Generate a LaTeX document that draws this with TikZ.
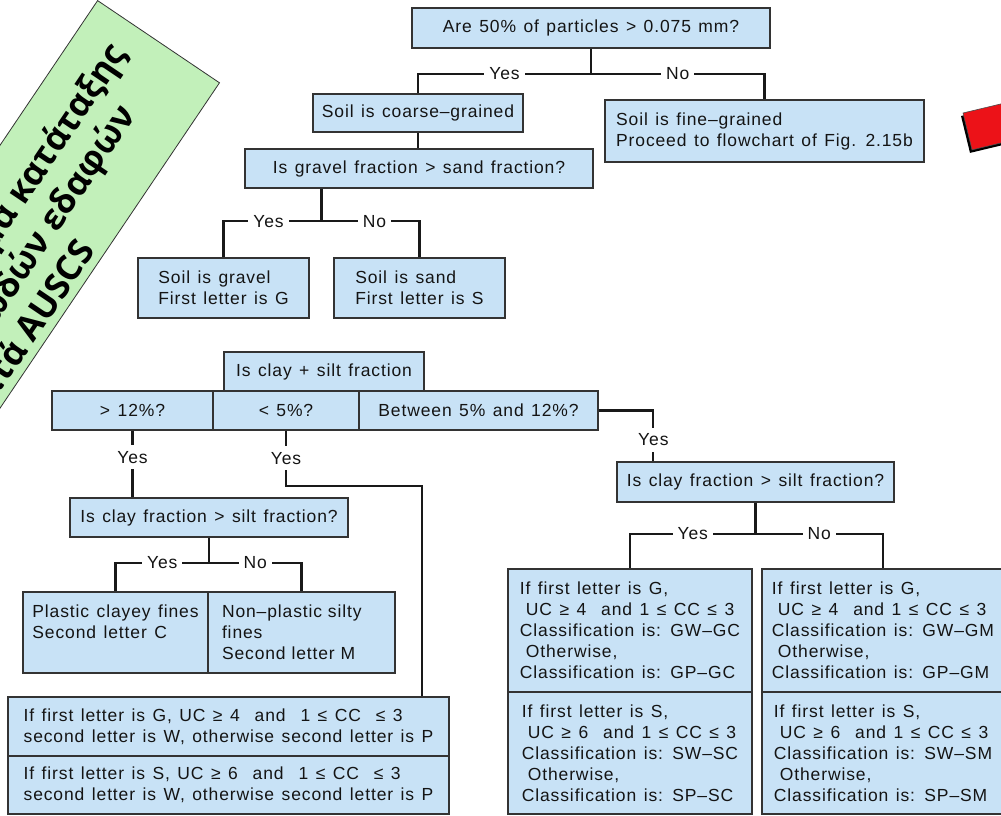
\documentclass[tikz,border=0pt]{standalone}
\usepackage{fontspec}
\setmainfont{Liberation Sans}[LetterSpace=5,WordSpace=1.3]
\newfontfamily\greekfont{Open Sans}
\usetikzlibrary{calc}
\definecolor{boxblue}{RGB}{200,226,246}
\definecolor{notegreen}{RGB}{194,240,186}
\definecolor{tabred}{RGB}{236,18,24}

\begin{document}
\begin{tikzpicture}[x=1pt,y=-1pt,
font=\fontsize{17.5}{21}\selectfont,
box/.style={draw=black!80,line width=1.3pt,fill=boxblue,text=black!92,align=left,inner sep=0pt},
link/.style={draw=black!90,line width=2.2pt},
lbl/.style={fill=white,text=black!92,inner xsep=5pt,inner ysep=6pt},
notebox/.style={draw=black!80,line width=.8pt,fill=notegreen}]
\path[use as bounding box,clip] (0,0) rectangle (1001,816);
\fill[white] (0,0) rectangle (1001,816);

% title note and red tab
\node[notebox,rotate=56,minimum width=434,minimum height=147] (notebg) at (37.2,221.6) {};
\node[rotate=56,anchor=west,inner sep=0pt,align=left,font=\greekfont\bfseries\fontsize{35}{42}\selectfont] (notetitle) at (-65.2,390.1) {Διάγραμμα κατάταξης\\κοκκωδών εδαφών\\κατά AUSCS};
\fill[black] (961,116) -- (1068,90.4) -- (1077,127.3) -- (970,152.9) -- cycle;
\filldraw[fill=tabred,draw=black!70,line width=.6pt] (963,113) -- (1070,87.4) -- (1079,124.3) -- (972,149.9) -- cycle;

% boxes
\node[box,minimum width=358,minimum height=40] (q50) at (591,28) {Are 50\% of particles > 0.075 mm?};
\node[box,minimum width=210,minimum height=38] (coarse) at (418,113) {Soil is coarse–grained};
\node[box,minimum width=319,minimum height=62] (fine) at (764.5,131) {Soil is fine–grained\\Proceed to flowchart of Fig. 2.15b};
\node[box,minimum width=348,minimum height=39] (gravelq) at (419,168.5) {Is gravel fraction > sand fraction?};
\node[box,minimum width=171,minimum height=60] (gravel) at (223.5,288) {Soil is gravel\\First letter is G};
\node[box,minimum width=171,minimum height=60] (sand) at (419.5,288) {Soil is sand\\First letter is S};
\node[box,minimum width=200,minimum height=39] (finesq) at (324,371.5) {Is clay + silt fraction};
\node[box,minimum width=161,minimum height=39] (over12) at (132.5,410.5) {> 12\%?};
\node[box,minimum width=146,minimum height=39] (under5) at (286,410.5) {< 5\%?};
\node[box,minimum width=239,minimum height=39] (between) at (478.5,410.5) {Between 5\% and 12\%?};
\node[box,minimum width=278,minimum height=39] (clayq) at (209,517.5) {Is clay fraction > silt fraction?};
\node[box,minimum width=277,minimum height=40] (clayqb) at (755.5,482) {Is clay fraction > silt fraction?};
\node[box,minimum width=185,minimum height=81] (clayey) at (115.5,632.5) {Plastic clayey fines\\Second letter C\\\mbox{}};
\node[box,minimum width=187,minimum height=81,text width=159pt] (silty) at (301.5,632.5) {Non–plastic silty\\fines\\Second letter M};
\node[box,minimum width=441,minimum height=59] (rulesG) at (228.5,726.5) {If first letter is G, UC ≥ 4~~and~~1 ≤ CC~~≤ 3\\second letter is W, otherwise second letter is P};
\node[box,minimum width=441,minimum height=58] (rulesS) at (228.5,785) {If first letter is S, UC ≥ 6~~and~~1 ≤ CC~~≤ 3\\second letter is W, otherwise second letter is P};
\node[box,minimum width=244,minimum height=123] (gc) at (630,630.5) {If first letter is G,\\\hspace{6pt}UC ≥ 4~~and 1 ≤ CC ≤ 3\\Classification is: GW–GC\\\hspace{6pt}Otherwise,\\Classification is: GP–GC};
\node[box,minimum width=244,minimum height=122] (sc) at (630,753) {If first letter is S,\\\hspace{6pt}UC ≥ 6~~and 1 ≤ CC ≤ 3\\Classification is: SW–SC\\\hspace{6pt}Otherwise,\\Classification is: SP–SC};
\node[box,minimum width=242,minimum height=123] (gm) at (883,630.5) {If first letter is G,\\\hspace{6pt}UC ≥ 4~~and 1 ≤ CC ≤ 3\\Classification is: GW–GM\\\hspace{6pt}Otherwise,\\Classification is: GP–GM};
\node[box,minimum width=242,minimum height=122] (sm) at (883,753) {If first letter is S,\\\hspace{6pt}UC ≥ 6~~and 1 ≤ CC ≤ 3\\Classification is: SW–SM\\\hspace{6pt}Otherwise,\\Classification is: SP–SM};

% connectors
\coordinate (j1) at ($(q50.south)+(0,25)$);
\draw[link] (q50.south) -- (j1);
\draw[link] (j1) -| node[lbl,pos=.25]{Yes} (coarse.north);
\draw[link] (j1) -| node[lbl,pos=.25]{No} (fine.north);
\draw[link] (coarse.south) -- (coarse.south |- gravelq.north);
\coordinate (j2) at ($(gravel.north)!.5!(sand.north)+(0,-36)$);
\draw[link] (j2 |- gravelq.south) -- (j2);
\draw[link] (j2) -| node[lbl,pos=.27]{Yes} (gravel.north);
\draw[link] (j2) -| node[lbl,pos=.27]{No} (sand.north);
\draw[link] ($(gravel.south)+(30,0)$) -- ($(gravel.south)+(30,0)$ |- finesq.north);
\draw[link] ($(sand.south)+(-29,0)$) -- ($(sand.south)+(-29,0)$ |- finesq.north);
\draw[link] (over12.south) -- node[lbl,pos=.4]{Yes} (over12.south |- clayq.north);
\draw[link] (under5.south) -- node[lbl]{Yes} ++(0,55) -| ($(rulesG.north east)+(-28,0)$);
\draw[link] (between.east) -| node[lbl,pos=.79]{Yes} ($(clayqb.north west)+(37,0)$);
\coordinate (j3) at ($(clayq.south)+(0,25)$);
\draw[link] (clayq.south) -- (j3);
\draw[link] (j3) -| node[lbl,pos=.25]{Yes} (clayey.north);
\draw[link] (j3) -| node[lbl,pos=.25]{No} (silty.north);
\coordinate (j4) at ($(clayqb.south)+(0,31)$);
\draw[link] (clayqb.south) -- (j4);
\draw[link] (j4) -| node[lbl,pos=.25]{Yes} (gc.north);
\draw[link] (j4) -| node[lbl,pos=.25]{No} (gm.north);
\end{tikzpicture}
\end{document}
